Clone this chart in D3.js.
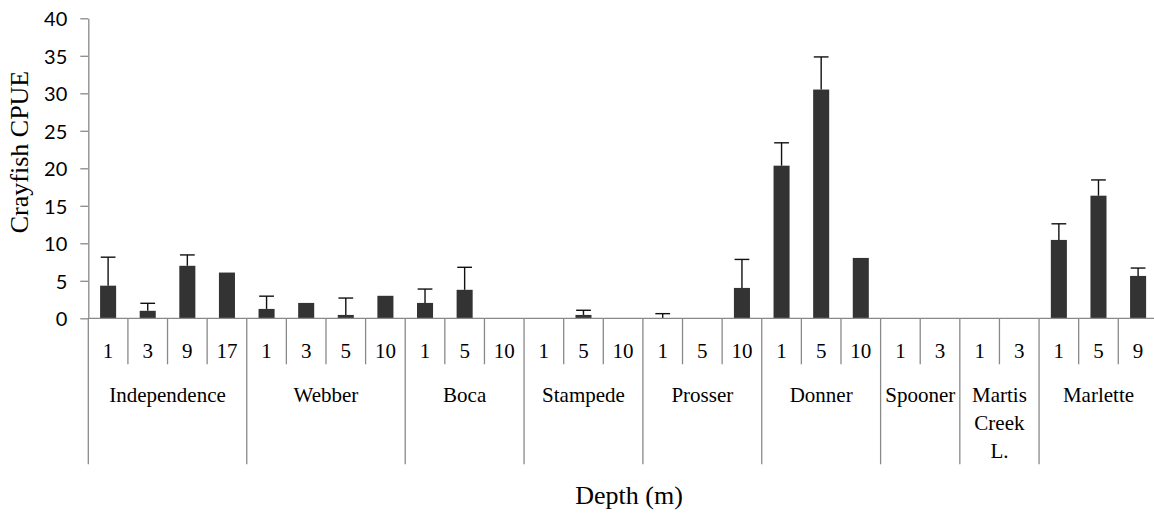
<!DOCTYPE html>
<html>
<head>
<meta charset="utf-8">
<script src="https://cdn.jsdelivr.net/npm/d3@7"></script>
<style>
  html, body { margin: 0; padding: 0; background: #fff; }
  svg { display: block; }
</style>
</head>
<body>
<svg id="chart" width="1154" height="517"></svg>
<script>
// Lakes and the depths (m) sampled in each
const lakes = ["Independence", "Webber", "Boca", "Stampede", "Prosser", "Donner", "Spooner", "Martis Creek L.", "Marlette"];
const lakeDepths = [
  ["1", "3", "9", "17"],
  ["1", "3", "5", "10"],
  ["1", "5", "10"],
  ["1", "5", "10"],
  ["1", "5", "10"],
  ["1", "5", "10"],
  ["1", "3"],
  ["1", "3"],
  ["1", "5", "9"]
];
// Mean crayfish CPUE per lake/depth, and its standard error (upper bar only)
const cpueMean = [
  [4.35, 1.0, 7.0, 6.1],
  [1.25, 2.05, 0.45, 3.0],
  [2.05, 3.8, 0],
  [0, 0.45, 0],
  [0, 0, 4.05],
  [20.35, 30.5, 8.05],
  [0, 0],
  [0, 0],
  [10.45, 16.35, 5.65]
];
const cpueSE = [
  [3.8, 1.0, 1.45, 0],
  [1.7, 0, 2.25, 0],
  [1.85, 3.0, 0],
  [0, 0.62, 0],
  [0.62, 0, 3.8],
  [3.05, 4.35, 0],
  [0, 0],
  [0, 0],
  [2.15, 2.1, 1.05]
];
const yTicks = [0, 5, 10, 15, 20, 25, 30, 35, 40];
const yTitle = "Crayfish CPUE";
const xTitle = "Depth (m)";

// Flatten into one row per bar
const rows = [];
lakes.forEach((lake, li) => {
  lakeDepths[li].forEach((d, di) => {
    rows.push({ id: li + "-" + di, lake, li, depth: d, mean: cpueMean[li][di], se: cpueSE[li][di] });
  });
});

const svg = d3.select("#chart");
const serif = "'Liberation Serif', 'Times New Roman', Times, serif";
const axisColor = "#898989";

const x = d3.scaleBand().domain(rows.map(r => r.id)).range([88.3, 1157.9]).padding(0);
const y = d3.scaleLinear().domain([0, 40]).range([318.3, 18.3]);
const barW = x.bandwidth() * 0.405;

// Y axis
const yAxis = svg.append("g")
  .attr("transform", "translate(88.3,0)")
  .call(d3.axisLeft(y).tickValues(yTicks).tickSize(8).tickSizeOuter(0).tickPadding(13));
yAxis.select(".domain").attr("stroke", axisColor).attr("stroke-width", 1.3);
yAxis.selectAll(".tick line").attr("stroke", axisColor).attr("stroke-width", 1.3);
yAxis.selectAll(".tick text")
  .attr("font-family", "Lato, 'Open Sans', sans-serif")
  .attr("font-size", 20)
  .attr("fill", "#000")
  .attr("dy", "0.36em");

// Y title
svg.append("text")
  .attr("transform", "translate(28,152) rotate(-90)")
  .attr("text-anchor", "middle")
  .attr("font-family", serif)
  .attr("font-size", 26)
  .text(yTitle);

// Bars
svg.append("g").selectAll("rect")
  .data(rows.filter(r => r.mean > 0))
  .join("rect")
  .attr("x", r => x(r.id) + (x.bandwidth() - barW) / 2)
  .attr("y", r => y(r.mean))
  .attr("width", barW)
  .attr("height", r => y(0) - y(r.mean))
  .attr("fill", "#333333");

// Error bars (upper half)
const capW = barW * 0.92;
const eb = svg.append("g").attr("stroke", "#111").attr("stroke-width", 1.4);
rows.filter(r => r.se > 0).forEach(r => {
  const cx = x(r.id) + x.bandwidth() / 2;
  eb.append("line").attr("x1", cx).attr("x2", cx).attr("y1", y(r.mean)).attr("y2", y(r.mean + r.se));
  eb.append("line").attr("x1", cx - capW / 2).attr("x2", cx + capW / 2)
    .attr("y1", y(r.mean + r.se)).attr("y2", y(r.mean + r.se));
});

// Category axis: baseline, depth ticks and lake separators
const xa = svg.append("g").attr("stroke", axisColor).attr("stroke-width", 1.3);
xa.append("line").attr("x1", 88.3).attr("x2", 1157.9).attr("y1", y(0)).attr("y2", y(0));
const groupStarts = new Set();
let idx = 0;
lakes.forEach((lake, li) => { groupStarts.add(idx); idx += lakeDepths[li].length; });
groupStarts.add(rows.length);
for (let i = 0; i <= rows.length; i++) {
  const bx = i < rows.length ? x(rows[i].id) : x(rows[rows.length - 1].id) + x.bandwidth();
  const bottom = groupStarts.has(i) ? 464.3 : 364.3;
  xa.append("line").attr("x1", bx).attr("x2", bx).attr("y1", y(0)).attr("y2", bottom);
}

// Depth labels
svg.append("g").selectAll("text")
  .data(rows)
  .join("text")
  .attr("x", r => x(r.id) + x.bandwidth() / 2)
  .attr("y", 357.7)
  .attr("text-anchor", "middle")
  .attr("font-family", serif)
  .attr("font-size", 21)
  .text(r => r.depth);

// Lake labels, wrapped word by word when wider than their span
const lakeG = svg.append("g");
let start = 0;
lakes.forEach((lake, li) => {
  const n = lakeDepths[li].length;
  const x0 = x(rows[start].id);
  const x1 = x(rows[start + n - 1].id) + x.bandwidth();
  const cx = (x0 + x1) / 2;
  const t = lakeG.append("text")
    .attr("x", cx).attr("y", 402.3)
    .attr("text-anchor", "middle")
    .attr("font-family", serif)
    .attr("font-size", 21)
    .text(lake);
  if (t.node().getComputedTextLength() > (x1 - x0) - 8) {
    t.text(null);
    lake.split(" ").forEach((w, wi) => {
      t.append("tspan").attr("x", cx).attr("y", 402.3 + wi * 27.7).text(w);
    });
  }
  start += n;
});

// X title
svg.append("text")
  .attr("x", 629)
  .attr("y", 504.3)
  .attr("text-anchor", "middle")
  .attr("font-family", serif)
  .attr("font-size", 26)
  .text(xTitle);
</script>
</body>
</html>
